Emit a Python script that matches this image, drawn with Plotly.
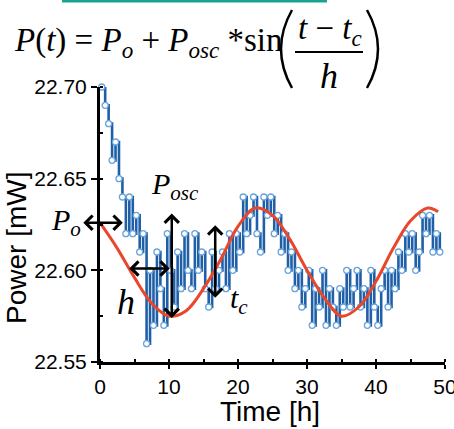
import plotly.graph_objects as go

# ---- data ----
power_mw = [
    22.70, 22.69, 22.68, 22.66, 22.67, 22.65, 22.64, 22.62, 22.64, 22.62,
    22.63, 22.61, 22.62, 22.56, 22.60, 22.57, 22.61, 22.59, 22.57, 22.62,
    22.60, 22.58, 22.61, 22.59, 22.62, 22.60, 22.59, 22.62, 22.60, 22.61,
    22.59, 22.58, 22.61, 22.59, 22.60, 22.61, 22.59, 22.62, 22.60, 22.62,
    22.61, 22.64, 22.62, 22.63, 22.64, 22.62, 22.61, 22.64, 22.63, 22.64,
    22.62, 22.63, 22.61, 22.62, 22.60, 22.61, 22.59, 22.60, 22.58, 22.59,
    22.60, 22.57, 22.59, 22.58, 22.60, 22.57, 22.59, 22.58, 22.57, 22.59,
    22.58, 22.60, 22.58, 22.59, 22.60, 22.58, 22.59, 22.57, 22.60, 22.58,
    22.57, 22.59, 22.60, 22.58, 22.60, 22.59, 22.61, 22.60, 22.62, 22.61,
    22.62, 22.60, 22.61, 22.63, 22.62, 22.63, 22.61, 22.62, 22.61,
]
time_h = [0.25 + 0.5 * i for i in range(len(power_mw))]

fit_time_h = [0, 2.5, 5, 7.5, 10, 12.5, 15, 17.5, 20, 22.5, 25, 27.5,
              30, 32.5, 35, 37.5, 40, 42.5, 45, 47.5, 49]
fit_power_mw = [22.626, 22.612, 22.596, 22.582, 22.575, 22.578, 22.590,
                22.606, 22.624, 22.634, 22.630, 22.617, 22.600, 22.585,
                22.575, 22.580, 22.594, 22.612, 22.627, 22.634, 22.632]

x_ticks = [0, 10, 20, 30, 40, 50]
y_ticks = [22.55, 22.60, 22.65, 22.70]

# ---- figure ----
W, H = 454, 429
ML, MR, MT, MB = 100, 9, 87, 67
PW, PH = W - ML - MR, H - MT - MB


def px(xp):
    return (xp - ML) / PW


def py(yp):
    return (H - MB - yp) / PH


fig = go.Figure()
fig.add_trace(go.Scatter(
    x=time_h, y=power_mw, mode="lines+markers", line_shape="hv",
    line=dict(color="#1f5fa8", width=2.6),
    marker=dict(symbol="circle", size=6, color="white",
                line=dict(color="#6aa4dc", width=1.3)),
    showlegend=False, cliponaxis=False,
))
fig.add_trace(go.Scatter(
    x=fit_time_h, y=fit_power_mw, mode="lines", line_shape="spline",
    line=dict(color="#e9462b", width=3), showlegend=False,
))

serif = "Liberation Serif, Times New Roman, serif"
sans = "Liberation Sans, Arial, sans-serif"
ann = []
# formula
ann.append(dict(xref="paper", yref="paper", x=px(12), y=py(42), xanchor="left",
                yanchor="middle", showarrow=False,
                text="<i>P</i>(<i>t</i>) = <i>P</i><sub><i>o</i></sub> + "
                     "<i>P</i><sub><i>osc</i></sub> *sin",
                font=dict(family=serif, size=33, color="black")))
ann.append(dict(xref="paper", yref="paper", x=px(330), y=py(30), xanchor="center",
                yanchor="middle", showarrow=False,
                text="<i>t</i> − <i>t</i><sub><i>c</i></sub>",
                font=dict(family=serif, size=33, color="black")))
ann.append(dict(xref="paper", yref="paper", x=px(329), y=py(76), xanchor="center",
                yanchor="middle", showarrow=False, text="<i>h</i>",
                font=dict(family=serif, size=36, color="black")))

# axis titles
ann.append(dict(xref="paper", yref="paper", x=px(16), y=py(248), xanchor="center",
                yanchor="middle", showarrow=False, text="Power [mW]",
                textangle=-90, font=dict(family=sans, size=28, color="black")))
ann.append(dict(xref="paper", yref="paper", x=px(270), y=py(411), xanchor="center",
                yanchor="middle", showarrow=False, text="Time [h]",
                font=dict(family=sans, size=28, color="black")))

# parameter labels
lab = dict(family=serif, size=30, color="black")
ann.append(dict(xref="paper", yref="paper", x=px(66), y=py(222), xanchor="center",
                yanchor="middle", showarrow=False,
                text="<i>P</i><sub><i>o</i></sub>", font=lab))
ann.append(dict(xref="paper", yref="paper", x=px(175), y=py(186), xanchor="center",
                yanchor="middle", showarrow=False,
                text="<i>P</i><sub><i>osc</i></sub>", font=lab))
ann.append(dict(xref="paper", yref="paper", x=px(126), y=py(302), xanchor="center",
                yanchor="middle", showarrow=False, text="<i>h</i>",
                font=dict(family=serif, size=36, color="black")))
ann.append(dict(xref="paper", yref="paper", x=px(239), y=py(300), xanchor="center",
                yanchor="middle", showarrow=False,
                text="<i>t</i><sub><i>c</i></sub>", font=lab))

# double arrows
arr = dict(showarrow=True, arrowside="end+start", arrowhead=4, arrowsize=1.1,
           arrowwidth=2.5, arrowcolor="black", text="", xref="x", yref="y")
ann.append(dict(arr, x=3.3, y=22.626, ax=-41, ay=0))
ann.append(dict(arr, x=10.4, y=22.574, ax=0, ay=-106))
ann.append(dict(arr, x=10.1, y=22.601, ax=-42, ay=0))
ann.append(dict(arr, x=16.7, y=22.585, ax=0, ay=-74))


def paren(x_end, x_mid, y_top, y_bot):
    xc = 2 * x_mid - x_end
    return (f"M {px(x_end)},{py(y_top)} Q {px(xc)},{py((y_top + y_bot) / 2)} "
            f"{px(x_end)},{py(y_bot)}")


fig.update_layout(
    width=W, height=H,
    margin=dict(l=ML, r=MR, t=MT, b=MB, autoexpand=False),
    paper_bgcolor="white", plot_bgcolor="white",
    font=dict(family=sans, color="black"),
    annotations=ann,
    shapes=[
        dict(type="line", xref="paper", yref="paper", x0=px(295), x1=px(363),
             y0=py(52), y1=py(52), line=dict(color="black", width=2)),
        dict(type="path", xref="paper", yref="paper",
             path=paren(292, 281, 10, 88), line=dict(color="black", width=2.5)),
        dict(type="path", xref="paper", yref="paper",
             path=paren(367, 378, 10, 88), line=dict(color="black", width=2.5)),
        dict(type="rect", xref="paper", yref="paper", x0=px(62), x1=px(327),
             y0=py(2.5), y1=py(0), line=dict(width=0), fillcolor="#1aa38c"),
    ],
    xaxis=dict(range=[0, 50], tickvals=x_ticks, showline=True, linecolor="black",
               linewidth=3, ticks="outside", ticklen=4, tickwidth=2,
               tickcolor="black", showgrid=False, zeroline=False,
               tickfont=dict(size=21), ticklabeloverflow="allow",
               minor=dict(dtick=5, ticks="inside", ticklen=3, tickwidth=2,
                          tickcolor="black", showgrid=False)),
    yaxis=dict(range=[22.55, 22.70], tickvals=y_ticks, tickformat=".2f",
               showline=True, linecolor="black", linewidth=3, ticks="outside",
               ticklen=6, tickwidth=2, tickcolor="black", showgrid=False,
               zeroline=False, tickfont=dict(size=21),
               minor=dict(dtick=0.025, ticks="inside", ticklen=3, tickwidth=2,
                          tickcolor="black", showgrid=False)),
)

fig.write_html("out.html", config={"displayModeBar": False},
               post_script="document.body.style.margin='0';"
                           "document.body.style.overflow='hidden';")
